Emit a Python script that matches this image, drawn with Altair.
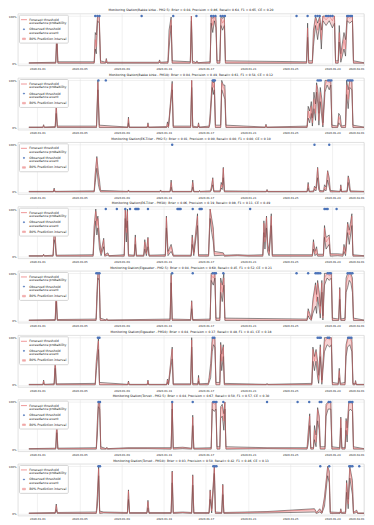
import altair as alt
import pandas as pd

# ---------------- data (days since 2020-01-01, forecast, lower80, upper80) ----------------
TITLES = [
    "Monitoring Station(Bakke kirke - PM2.5): Brier = 0.04, Precision = 0.86, Recall= 0.64, F1 = 0.65, CE = 0.20",
    "Monitoring Station(Bakke kirke - PM10): Brier = 0.04, Precision = 0.49, Recall= 0.61, F1 = 0.54, CE = 0.12",
    "Monitoring Station(E6-Tiller - PM2.5): Brier = 0.01, Precision = 0.00, Recall= 0.00, F1 = 0.00, CE = 0.10",
    "Monitoring Station(E6-Tiller - PM10): Brier = 0.06, Precision = 0.19, Recall= 0.08, F1 = 0.11, CE = 0.49",
    "Monitoring Station(Elgeseter - PM2.5): Brier = 0.04, Precision = 0.60, Recall= 0.45, F1 = 0.52, CE = 0.21",
    "Monitoring Station(Elgeseter - PM10): Brier = 0.04, Precision = 0.37, Recall= 0.48, F1 = 0.41, CE = 0.18",
    "Monitoring Station(Torvet - PM2.5): Brier = 0.04, Precision = 0.67, Recall= 0.50, F1 = 0.57, CE = 0.30",
    "Monitoring Station(Torvet - PM10): Brier = 0.03, Precision = 0.50, Recall= 0.42, F1 = 0.46, CE = 0.13",
]

P1 = [(-0.8, 0.005, 0, 0.01), (1.75, 0.005, 0, 0.02), (1.85, 0.65, 0.45, 0.75), (1.95, 0.01, 0, 0.03),
      (5.4, 0.01, 0, 0.03), (5.5, 0.5, 0.3, 0.65), (5.6, 0.35, 0.2, 0.6), (5.72, 1.0, 0.9, 1.0),
      (5.88, 0.97, 0.85, 1.0), (6.0, 0.01, 0, 0.05), (6.48, 0.01, 0, 0.02), (6.55, 0.08, 0.03, 0.1),
      (6.62, 0.01, 0, 0.02), (11.53, 0.01, 0, 0.02), (11.6, 0.05, 0.02, 0.07), (11.67, 0.01, 0, 0.02),
      (12.4, 0.01, 0, 0.03), (12.5, 0.5, 0.3, 0.7), (12.7, 0.92, 0.8, 0.98), (12.8, 0.01, 0, 0.05),
      (14.52, 0.01, 0, 0.03), (14.62, 1.0, 0.9, 1.0), (14.72, 0.01, 0, 0.05), (15.08, 0.005, 0, 0.01),
      (15.15, 0.03, 0.01, 0.05), (15.22, 0.005, 0, 0.01), (16.4, 0.01, 0, 0.03), (16.5, 0.98, 0.85, 1.0),
      (16.65, 0.8, 0.65, 0.95), (16.8, 1.0, 0.9, 1.0), (16.95, 0.9, 0.75, 1.0), (17.05, 0.01, 0, 0.05),
      (17.32, 0.01, 0, 0.05), (17.42, 0.95, 0.8, 1.0), (17.58, 0.85, 0.7, 0.95), (17.75, 0.92, 0.8, 1.0),
      (17.85, 0.01, 0, 0.05), (25.55, 0.01, 0, 0.03), (25.65, 0.75, 0.55, 0.85), (25.75, 0.01, 0, 0.05),
      (26.1, 0.01, 0, 0.05), (26.2, 0.55, 0.35, 0.7), (26.4, 0.95, 0.8, 1.0), (26.6, 0.7, 0.5, 0.85),
      (26.8, 0.95, 0.85, 1.0), (26.95, 0.5, 0.3, 0.7), (27.1, 1.0, 0.9, 1.0), (27.4, 0.92, 0.8, 1.0),
      (27.7, 1.0, 0.9, 1.0), (28.0, 0.9, 0.75, 1.0), (28.2, 1.0, 0.85, 1.0), (28.3, 0.01, 0, 0.05),
      (28.55, 0.01, 0, 0.05), (28.65, 0.65, 0.45, 0.8), (28.8, 0.1, 0.02, 0.2), (29.1, 0.5, 0.3, 0.65),
      (29.25, 0.3, 0.15, 0.5), (29.4, 1.0, 0.9, 1.0), (29.65, 0.95, 0.85, 1.0), (29.9, 1.0, 0.9, 1.0),
      (30.0, 0.01, 0, 0.05), (31, 0.005, 0, 0.01)]
P1_OBS = [5.5, 5.7, 5.9, 9.9, 12.9, 15.1, 16.5, 16.7, 16.9, 17.4, 17.6, 17.8, 24.6, 25.65,
          26.4, 26.6, 26.8, 27.4, 27.6, 27.8, 28.0, 29.4, 29.55, 29.7, 29.85]

P2 = [(-0.8, 0.005, 0, 0.01), (0.53, 0.005, 0, 0.01), (0.6, 0.04, 0.01, 0.06), (0.67, 0.005, 0, 0.01),
      (1.7, 0.01, 0, 0.02), (1.8, 0.46, 0.3, 0.5), (1.9, 0.01, 0, 0.03), (5.62, 0.01, 0, 0.03),
      (5.75, 0.96, 0.8, 1.0), (5.88, 0.01, 0, 0.05), (8.58, 0.005, 0, 0.01), (8.65, 0.19, 0.1, 0.22),
      (8.72, 0.005, 0, 0.01), (10.43, 0.005, 0, 0.01), (10.5, 0.08, 0.03, 0.1), (10.57, 0.005, 0, 0.01),
      (12.28, 0.01, 0, 0.02), (12.35, 0.08, 0.02, 0.12), (12.45, 0.01, 0, 0.03), (12.8, 0.93, 0.8, 0.98),
      (12.9, 0.01, 0, 0.03), (14.55, 0.01, 0, 0.03), (14.65, 1.0, 0.85, 1.0), (14.75, 0.01, 0, 0.03),
      (15.23, 0.005, 0, 0.01), (15.3, 0.08, 0.03, 0.1), (15.37, 0.005, 0, 0.01), (16.3, 0.01, 0, 0.03),
      (16.4, 0.2, 0.1, 0.3), (16.6, 0.97, 0.85, 1.0), (16.7, 0.85, 0.7, 0.95), (16.8, 0.95, 0.8, 1.0),
      (16.9, 0.01, 0, 0.05), (17.4, 0.01, 0, 0.05), (17.5, 0.95, 0.8, 1.0), (17.65, 0.85, 0.7, 0.9),
      (17.8, 0.8, 0.6, 0.9), (17.9, 0.01, 0, 0.05), (21.63, 0.005, 0, 0.01), (21.7, 0.05, 0.02, 0.07),
      (21.77, 0.005, 0, 0.01), (25.6, 0.01, 0, 0.03), (25.7, 0.35, 0.2, 0.45), (25.85, 0.2, 0.1, 0.35),
      (26.0, 0.45, 0.3, 0.55), (26.1, 0.1, 0.03, 0.2), (26.25, 0.6, 0.4, 0.75), (26.4, 0.3, 0.15, 0.5),
      (26.5, 0.9, 0.75, 0.95), (26.62, 0.7, 0.5, 0.8), (26.72, 0.15, 0.05, 0.3), (26.85, 0.75, 0.55, 0.85),
      (27.0, 0.4, 0.2, 0.6), (27.1, 0.05, 0.01, 0.1), (27.3, 0.9, 0.75, 1.0), (27.5, 1.0, 0.9, 1.0),
      (27.7, 0.95, 0.8, 1.0), (27.85, 1.0, 0.9, 1.0), (27.95, 0.01, 0, 0.05), (28.5, 0.01, 0, 0.03),
      (28.6, 0.23, 0.1, 0.3), (28.75, 0.15, 0.05, 0.25), (28.85, 0.01, 0, 0.03), (29.25, 0.01, 0, 0.05),
      (29.35, 0.9, 0.7, 1.0), (29.5, 0.6, 0.4, 0.8), (29.65, 1.0, 0.85, 1.0), (29.85, 0.95, 0.8, 1.0),
      (29.95, 0.01, 0, 0.05), (31, 0.005, 0, 0.01)]
P2_OBS = [5.8, 6.5, 16.65, 16.75, 16.85, 26.6, 26.75, 26.9, 27.6, 27.75, 27.9, 29.45, 29.6, 29.75, 29.9]

P3 = [(-0.8, 0.005, 0, 0.01), (1.53, 0.005, 0, 0.01), (1.6, 0.06, 0.03, 0.08), (1.67, 0.005, 0, 0.01),
      (5.4, 0.01, 0, 0.02), (5.5, 0.35, 0.2, 0.4), (5.65, 0.72, 0.5, 0.75), (5.8, 0.3, 0.15, 0.4),
      (5.9, 0.15, 0.05, 0.25), (6.0, 0.01, 0, 0.03), (8.58, 0.005, 0, 0.01), (8.65, 0.03, 0.01, 0.04),
      (8.72, 0.005, 0, 0.01), (11.63, 0.005, 0, 0.01), (11.7, 0.03, 0.01, 0.04), (11.77, 0.005, 0, 0.01),
      (12.6, 0.005, 0, 0.01), (12.7, 0.2, 0.1, 0.25), (12.8, 0.005, 0, 0.01), (14.65, 0.005, 0, 0.01),
      (14.75, 0.2, 0.1, 0.25), (14.85, 0.005, 0, 0.01), (15.33, 0.005, 0, 0.01), (15.4, 0.02, 0.01, 0.03),
      (15.47, 0.005, 0, 0.01), (16.42, 0.01, 0, 0.02), (16.5, 0.05, 0.02, 0.08), (16.65, 0.28, 0.15, 0.3),
      (16.75, 0.01, 0, 0.02), (17.35, 0.01, 0, 0.02), (17.45, 0.15, 0.08, 0.2), (17.55, 0.1, 0.05, 0.15),
      (17.65, 0.5, 0.3, 0.52), (17.75, 0.01, 0, 0.02), (21.73, 0.005, 0, 0.01), (21.8, 0.04, 0.02, 0.05),
      (21.87, 0.005, 0, 0.01), (25.6, 0.005, 0, 0.01), (25.7, 0.16, 0.08, 0.2), (25.8, 0.005, 0, 0.01),
      (26.22, 0.01, 0, 0.02), (26.3, 0.1, 0.05, 0.12), (26.45, 0.05, 0.02, 0.08), (26.6, 0.5, 0.3, 0.52),
      (26.7, 0.15, 0.05, 0.25), (26.8, 0.01, 0, 0.03), (27.17, 0.01, 0, 0.02), (27.25, 0.1, 0.05, 0.15),
      (27.4, 0.05, 0.02, 0.1), (27.55, 0.43, 0.25, 0.45), (27.7, 0.2, 0.1, 0.3), (27.8, 0.01, 0, 0.03),
      (28.73, 0.005, 0, 0.01), (28.8, 0.13, 0.06, 0.15), (28.87, 0.005, 0, 0.01), (29.4, 0.01, 0, 0.02),
      (29.5, 0.31, 0.2, 0.34), (29.6, 0.15, 0.08, 0.25), (29.7, 0.01, 0, 0.02), (31, 0.005, 0, 0.01)]
P3_OBS = [12.8, 26.3, 27.7]

P4 = [(-0.8, 0.005, 0, 0.01), (0.53, 0.005, 0, 0.01), (0.6, 0.03, 0.01, 0.04), (0.67, 0.005, 0, 0.01),
      (1.5, 0.01, 0, 0.02), (1.6, 0.52, 0.35, 0.55), (1.7, 0.4, 0.25, 0.45), (1.8, 0.01, 0, 0.02),
      (5.3, 0.01, 0, 0.03), (5.4, 0.6, 0.4, 0.65), (5.55, 0.95, 0.75, 1.0), (5.65, 0.65, 0.45, 0.75),
      (5.75, 0.8, 0.6, 0.85), (5.9, 0.3, 0.15, 0.4), (6.05, 0.05, 0.01, 0.08), (6.3, 0.35, 0.2, 0.38),
      (6.4, 0.01, 0, 0.03), (6.7, 0.05, 0.02, 0.07), (6.8, 0.005, 0, 0.01), (8.25, 0.01, 0, 0.03),
      (8.35, 0.98, 0.8, 1.0), (8.45, 0.5, 0.3, 0.6), (8.55, 0.95, 0.75, 1.0), (8.65, 0.01, 0, 0.03),
      (9.2, 0.01, 0, 0.02), (9.3, 0.4, 0.25, 0.45), (9.4, 0.01, 0, 0.02), (10.1, 0.01, 0, 0.02),
      (10.2, 0.3, 0.15, 0.35), (10.35, 0.05, 0.01, 0.08), (10.5, 0.38, 0.2, 0.4), (10.6, 0.01, 0, 0.02),
      (12.15, 0.01, 0, 0.03), (12.25, 0.82, 0.6, 0.85), (12.4, 0.05, 0.01, 0.1), (12.7, 0.2, 0.1, 0.25),
      (12.8, 0.1, 0.05, 0.15), (12.9, 0.01, 0, 0.02), (14.6, 0.01, 0, 0.02), (14.7, 0.4, 0.25, 0.45),
      (14.85, 0.05, 0.01, 0.08), (15.2, 0.85, 0.65, 0.9), (15.3, 0.01, 0, 0.03), (16.25, 0.01, 0, 0.03),
      (16.4, 1.0, 0.8, 1.0), (16.55, 0.7, 0.5, 0.8), (16.7, 0.5, 0.3, 0.6), (16.8, 0.05, 0.01, 0.1),
      (17.65, 0.05, 0.02, 0.07), (17.75, 0.01, 0, 0.02), (19.0, 0.02, 0.01, 0.03), (20.0, 0.01, 0, 0.02),
      (21.4, 0.01, 0, 0.03), (21.5, 0.7, 0.5, 0.75), (21.6, 0.3, 0.15, 0.4), (21.75, 0.82, 0.6, 0.85),
      (21.85, 0.2, 0.1, 0.3), (22.0, 0.05, 0.01, 0.1), (22.2, 0.85, 0.65, 0.9), (22.3, 0.01, 0, 0.03),
      (26.1, 0.01, 0, 0.03), (26.2, 0.3, 0.15, 0.35), (26.35, 0.05, 0.01, 0.1), (26.5, 0.15, 0.05, 0.2),
      (26.6, 0.02, 0, 0.04), (27.15, 0.02, 0, 0.04), (27.25, 0.6, 0.4, 0.65), (27.4, 0.3, 0.15, 0.4),
      (27.7, 0.4, 0.25, 0.45), (27.8, 0.03, 0, 0.05), (28.5, 0.03, 0.01, 0.05), (29.0, 0.02, 0, 0.04),
      (29.1, 0.2, 0.1, 0.25), (29.25, 0.05, 0.01, 0.1), (29.45, 0.68, 0.5, 0.72), (29.6, 0.45, 0.25, 0.55),
      (29.85, 0.85, 0.65, 0.9), (29.95, 0.01, 0, 0.03), (31, 0.005, 0, 0.01)]
P4_OBS = [6.5, 7.55, 8.35, 8.8, 9.3, 9.4, 9.5, 9.6, 10.5, 13.3, 13.4, 13.5, 13.6, 14.75, 15.4, 15.5,
          15.6, 20.2, 27.25, 27.4, 27.55, 28.4]

P5 = [(-0.8, 0.005, 0, 0.01), (1.7, 0.01, 0, 0.02), (1.8, 0.58, 0.4, 0.62), (1.9, 0.01, 0, 0.02),
      (5.58, 0.01, 0, 0.03), (5.65, 0.45, 0.3, 0.55), (5.75, 1.0, 0.9, 1.0), (5.88, 0.98, 0.85, 1.0),
      (5.97, 0.01, 0, 0.05), (6.53, 0.005, 0, 0.01), (6.6, 0.03, 0.01, 0.04), (6.67, 0.005, 0, 0.01),
      (12.6, 0.01, 0, 0.03), (12.7, 0.95, 0.8, 1.0), (12.8, 0.01, 0, 0.03), (14.55, 0.01, 0, 0.02),
      (14.65, 0.4, 0.25, 0.42), (14.75, 0.01, 0, 0.02), (16.4, 0.01, 0, 0.03), (16.5, 0.97, 0.85, 1.0),
      (16.7, 0.9, 0.75, 1.0), (16.85, 1.0, 0.9, 1.0), (16.95, 0.01, 0, 0.05), (17.32, 0.01, 0, 0.05),
      (17.4, 0.8, 0.6, 0.9), (17.55, 0.6, 0.4, 0.75), (17.7, 0.9, 0.75, 1.0), (17.8, 0.01, 0, 0.05),
      (25.6, 0.01, 0, 0.03), (25.7, 0.2, 0.1, 0.25), (25.85, 0.1, 0.03, 0.15), (26.0, 0.01, 0, 0.03),
      (26.15, 0.35, 0.15, 0.45), (26.4, 0.75, 0.3, 0.8), (26.5, 0.4, 0.15, 0.55), (26.6, 0.8, 0.5, 0.85),
      (26.75, 0.5, 0.25, 0.6), (26.85, 0.15, 0.05, 0.3), (27.0, 0.8, 0.6, 0.85), (27.1, 0.05, 0.01, 0.1),
      (27.25, 0.9, 0.75, 1.0), (27.5, 1.0, 0.9, 1.0), (27.7, 0.95, 0.85, 1.0), (27.9, 1.0, 0.9, 1.0),
      (28.0, 0.01, 0, 0.05), (28.6, 0.01, 0, 0.03), (28.7, 0.67, 0.45, 0.7), (28.8, 0.01, 0, 0.03),
      (29.2, 0.01, 0, 0.05), (29.3, 0.8, 0.6, 0.9), (29.45, 0.9, 0.7, 1.0), (29.6, 1.0, 0.85, 1.0),
      (29.75, 0.95, 0.8, 1.0), (29.9, 0.8, 0.6, 0.9), (30.0, 0.01, 0, 0.05), (31, 0.005, 0, 0.01)]
P5_OBS = [5.6, 5.75, 5.9, 12.8, 14.75, 16.65, 16.8, 16.95, 17.65, 24.6, 25.7, 26.4, 26.55, 26.7, 26.85,
          27.55, 27.7, 27.85, 29.45, 29.6, 29.75, 29.9]

P6 = [(-0.8, 0.005, 0, 0.01), (0.53, 0.005, 0, 0.01), (0.6, 0.08, 0.03, 0.1), (0.67, 0.005, 0, 0.01),
      (1.6, 0.01, 0, 0.02), (1.7, 0.52, 0.35, 0.55), (1.8, 0.01, 0, 0.02), (5.5, 0.01, 0, 0.03),
      (5.6, 0.45, 0.3, 0.5), (5.8, 0.93, 0.75, 0.98), (5.9, 0.01, 0, 0.05), (8.58, 0.005, 0, 0.01),
      (8.65, 0.06, 0.02, 0.08), (8.72, 0.005, 0, 0.01), (10.43, 0.005, 0, 0.01), (10.5, 0.08, 0.03, 0.1),
      (10.57, 0.005, 0, 0.01), (12.28, 0.005, 0, 0.01), (12.35, 0.1, 0.05, 0.12), (12.45, 0.01, 0, 0.02),
      (12.8, 0.76, 0.55, 0.8), (12.9, 0.01, 0, 0.02), (14.55, 0.01, 0, 0.02), (14.65, 0.95, 0.8, 1.0),
      (14.75, 0.01, 0, 0.03), (15.23, 0.01, 0, 0.02), (15.3, 0.15, 0.08, 0.2), (15.37, 0.01, 0, 0.02),
      (16.22, 0.01, 0, 0.03), (16.3, 0.1, 0.05, 0.15), (16.45, 0.3, 0.15, 0.45), (16.6, 0.9, 0.7, 1.0),
      (16.72, 1.0, 0.85, 1.0), (16.85, 0.95, 0.8, 1.0), (16.95, 0.01, 0, 0.05), (17.32, 0.01, 0, 0.05),
      (17.4, 0.85, 0.65, 0.9), (17.5, 0.5, 0.3, 0.65), (17.65, 0.8, 0.6, 0.85), (17.75, 0.01, 0, 0.03),
      (21.73, 0.005, 0, 0.01), (21.8, 0.02, 0.01, 0.03), (21.87, 0.005, 0, 0.01), (26.05, 0.01, 0, 0.03),
      (26.15, 0.75, 0.5, 0.8), (26.3, 0.5, 0.3, 0.6), (26.45, 0.7, 0.5, 0.75), (26.6, 0.35, 0.15, 0.5),
      (26.7, 0.1, 0.03, 0.2), (26.85, 0.8, 0.6, 0.85), (27.0, 0.05, 0.01, 0.1), (27.25, 0.9, 0.7, 1.0),
      (27.5, 1.0, 0.85, 1.0), (27.75, 0.95, 0.8, 1.0), (27.9, 1.0, 0.85, 1.0), (28.0, 0.01, 0, 0.05),
      (28.55, 0.01, 0, 0.03), (28.65, 0.3, 0.15, 0.35), (28.75, 0.01, 0, 0.03), (29.2, 0.01, 0, 0.05),
      (29.3, 0.8, 0.6, 0.85), (29.45, 0.95, 0.8, 1.0), (29.65, 1.0, 0.85, 1.0), (29.85, 0.9, 0.7, 1.0),
      (29.95, 0.01, 0, 0.03), (30.13, 0.01, 0, 0.02), (30.2, 0.07, 0.03, 0.09), (30.27, 0.005, 0, 0.01),
      (31, 0.005, 0, 0.01)]
P6_OBS = [5.75, 5.9, 16.65, 16.8, 26.6, 26.75, 26.9, 27.55, 27.7, 29.5, 29.65, 29.8]

P7 = [(-0.8, 0.005, 0, 0.01), (1.75, 0.01, 0, 0.02), (1.85, 0.55, 0.35, 0.6), (1.95, 0.01, 0, 0.02),
      (5.6, 0.01, 0, 0.03), (5.7, 0.5, 0.3, 0.6), (5.8, 1.0, 0.9, 1.0), (5.92, 0.97, 0.85, 1.0),
      (6.02, 0.01, 0, 0.05), (6.53, 0.005, 0, 0.01), (6.6, 0.03, 0.01, 0.04), (6.67, 0.005, 0, 0.01),
      (8.6, 0.02, 0.01, 0.03), (10.5, 0.02, 0.01, 0.03), (12.7, 0.01, 0, 0.03), (12.8, 0.98, 0.85, 1.0),
      (12.9, 0.01, 0, 0.03), (13.8, 0.03, 0.01, 0.04), (14.65, 0.01, 0, 0.02), (14.75, 0.68, 0.5, 0.72),
      (14.85, 0.01, 0, 0.02), (16.5, 0.01, 0, 0.03), (16.6, 1.0, 0.85, 1.0), (16.8, 0.95, 0.8, 1.0),
      (16.95, 0.98, 0.85, 1.0), (17.05, 0.01, 0, 0.05), (17.32, 0.01, 0, 0.05), (17.4, 0.85, 0.65, 0.9),
      (17.55, 0.9, 0.7, 0.95), (17.7, 0.6, 0.4, 0.75), (17.8, 1.0, 0.85, 1.0), (17.9, 0.01, 0, 0.05),
      (21.8, 0.02, 0.01, 0.03), (25.6, 0.01, 0, 0.03), (25.7, 0.25, 0.1, 0.35), (25.85, 0.7, 0.5, 0.75),
      (25.95, 0.01, 0, 0.03), (26.2, 0.01, 0, 0.03), (26.3, 0.4, 0.2, 0.5), (26.45, 0.15, 0.05, 0.3),
      (26.6, 0.84, 0.6, 0.88), (26.75, 0.65, 0.4, 0.7), (26.85, 0.01, 0, 0.05), (27.3, 0.01, 0, 0.05),
      (27.4, 0.9, 0.7, 0.95), (27.6, 0.98, 0.85, 1.0), (27.85, 1.0, 0.85, 1.0), (27.95, 0.01, 0, 0.05),
      (28.7, 0.01, 0, 0.03), (28.8, 0.65, 0.45, 0.68), (28.9, 0.01, 0, 0.03), (29.2, 0.01, 0, 0.03),
      (29.3, 0.6, 0.4, 0.65), (29.4, 0.3, 0.15, 0.45), (29.55, 0.95, 0.8, 1.0), (29.7, 1.0, 0.85, 1.0),
      (29.9, 0.95, 0.8, 1.0), (30.0, 0.01, 0, 0.05), (31, 0.005, 0, 0.01)]
P7_OBS = [5.8, 5.95, 12.8, 14.75, 16.7, 16.85, 17.0, 17.65, 21.8, 24.7, 25.8, 26.8, 26.95, 27.65,
          27.8, 29.6, 29.75, 29.9]

P8 = [(-0.8, 0.005, 0, 0.01), (1.7, 0.01, 0, 0.02), (1.8, 0.17, 0.08, 0.2), (1.9, 0.01, 0, 0.02),
      (5.6, 0.01, 0, 0.03), (5.7, 0.3, 0.15, 0.4), (5.82, 0.95, 0.8, 1.0), (5.92, 0.01, 0, 0.05),
      (6.3, 0.02, 0.01, 0.03), (8.55, 0.01, 0, 0.02), (8.65, 0.48, 0.3, 0.5), (8.75, 0.01, 0, 0.02),
      (10.4, 0.01, 0, 0.02), (10.5, 0.25, 0.12, 0.28), (10.6, 0.01, 0, 0.02), (12.7, 0.01, 0, 0.02),
      (12.8, 0.88, 0.65, 0.9), (12.9, 0.01, 0, 0.02), (13.8, 0.02, 0.01, 0.03), (14.65, 0.01, 0, 0.02),
      (14.75, 0.8, 0.6, 0.82), (14.85, 0.01, 0, 0.02), (16.3, 0.01, 0, 0.02), (16.4, 0.48, 0.3, 0.5),
      (16.55, 0.05, 0.01, 0.1), (16.8, 0.98, 0.85, 1.0), (16.9, 0.01, 0, 0.03), (17.5, 0.01, 0, 0.02),
      (17.6, 0.6, 0.4, 0.62), (17.7, 0.01, 0, 0.02), (21.8, 0.03, 0.01, 0.04), (26.3, 0.08, 0.03, 0.1),
      (26.5, 0.01, 0, 0.02), (26.8, 0.08, 0.03, 0.1), (27.0, 0.01, 0, 0.02), (27.25, 0.3, 0.15, 0.35),
      (27.55, 0.97, 0.8, 1.0), (27.7, 0.85, 0.65, 0.9), (27.8, 0.01, 0, 0.03), (28.73, 0.01, 0, 0.02),
      (28.8, 0.08, 0.03, 0.1), (28.87, 0.01, 0, 0.02), (29.25, 0.01, 0, 0.03), (29.35, 0.65, 0.45, 0.7),
      (29.5, 0.2, 0.1, 0.3), (29.65, 0.95, 0.75, 1.0), (29.9, 0.6, 0.4, 0.7), (30.0, 0.01, 0, 0.02),
      (30.3, 0.05, 0.02, 0.07), (30.4, 0.005, 0, 0.01), (31, 0.005, 0, 0.01)]
P8_OBS = [5.8, 5.95, 16.7, 16.85, 17.0, 26.85, 27.7, 29.6, 29.75, 29.9, 30.55]

PANELS = [(P1, P1_OBS), (P2, P2_OBS), (P3, P3_OBS), (P4, P4_OBS),
          (P5, P5_OBS), (P6, P6_OBS), (P7, P7_OBS), (P8, P8_OBS)]

TICK_DATES = [(2020, 1, 1), (2020, 1, 5), (2020, 1, 9), (2020, 1, 13), (2020, 1, 17),
              (2020, 1, 21), (2020, 1, 25), (2020, 1, 29), (2020, 2, 1)]
Y_TICKS = [0, 0.2, 0.4, 0.6, 0.8, 1.0]

SF = "Forecast threshold|exceedance probability"
SO = "Observed threshold|exceedance event"
SB = "80% Prediction interval"
RED = "#e8696b"
BLUE = "#4a72b8"
PINK = "#f0a8a8"

# ---------------- chart ----------------
W, H = 347, 52
FONT = "DejaVu Sans"
BASE = pd.Timestamp("2020-01-01")

CIRCLE = "M0,-0.2A0.2,0.2 0 1,1 0,0.2A0.2,0.2 0 1,1 0,-0.2Z"
RECT = "M-0.5,-0.25L0.5,-0.25L0.5,0.25L-0.5,0.25Z"


def times(days):
    return BASE + pd.to_timedelta(list(days), unit="D")


color_scale = alt.Scale(domain=[SF, SO, SB], range=[RED, BLUE, PINK])

legend = alt.Legend(
    title=None, orient="top-left", offset=1, fillColor="white", strokeColor="#d5d5d5",
    padding=1.5, cornerRadius=1, labelFontSize=3.2, labelFont=FONT, labelColor="#222",
    labelExpr="split(datum.label, '|')", rowPadding=0.6, labelOffset=1.8,
    symbolSize=36, symbolStrokeWidth=0.7, symbolOpacity=1,
    symbolType=alt.ExprRef(expr=f"datum.value === '{SO}' ? '{CIRCLE}' : datum.value === '{SB}' ? '{RECT}' : 'stroke'"),
    symbolFillColor=alt.ExprRef(expr=f"datum.value === '{SO}' ? '{BLUE}' : datum.value === '{SB}' ? '{PINK}' : 'transparent'"),
    symbolStrokeColor=alt.ExprRef(expr=f"datum.value === '{SF}' ? '{RED}' : 'transparent'"),
)

x_enc = alt.X(
    "t:T", title=None,
    scale=alt.Scale(domain=[alt.DateTime(year=2019, month=12, date=30, hours=4),
                            alt.DateTime(year=2020, month=2, date=1)]),
    axis=alt.Axis(values=[alt.DateTime(year=y, month=m, date=d) for y, m, d in TICK_DATES],
                  format="%Y-%m-%d", labelFlush=True),
)
y_scale = alt.Scale(domain=[-0.05, 1.05], nice=False, zero=False)
y_axis = alt.Axis(values=Y_TICKS, format=".0%")


def panel(title, rows, obs):
    df = pd.DataFrame(rows, columns=["d", "p", "lo", "hi"])
    df["t"] = times(df["d"])
    df["f"] = SF
    df["b"] = SB
    od = pd.DataFrame({"d": obs})
    od["t"] = times(od["d"])
    od["y"] = 1.0
    od["o"] = SO

    base = alt.Chart(df)
    band = base.mark_area(opacity=0.5).encode(
        x=x_enc,
        y=alt.Y("lo:Q", scale=y_scale, axis=y_axis, title=None),
        y2="hi:Q",
        color=alt.Color("b:N", scale=color_scale, legend=legend),
    )
    lo_line = base.mark_line(color="#1e1e1e", strokeWidth=0.5).encode(
        x=x_enc, y=alt.Y("lo:Q", scale=y_scale))
    hi_line = base.mark_line(color="#1e1e1e", strokeWidth=0.5).encode(
        x=x_enc, y=alt.Y("hi:Q", scale=y_scale))
    f_line = base.mark_line(strokeWidth=0.5).encode(
        x=x_enc, y=alt.Y("p:Q", scale=y_scale),
        color=alt.Color("f:N", scale=color_scale, legend=legend),
    )
    pts = alt.Chart(od).mark_circle(size=6, opacity=1).encode(
        x=x_enc, y=alt.Y("y:Q", scale=y_scale),
        color=alt.Color("o:N", scale=color_scale, legend=legend),
    )
    return alt.layer(band, lo_line, hi_line, f_line, pts).properties(
        width=W, height=H,
        title=alt.TitleParams(title, fontSize=3.1, font=FONT, fontWeight="normal",
                              color="#111", offset=1.2, anchor="middle"),
    )


chart = alt.vconcat(
    *[panel(t, rows, obs) for t, (rows, obs) in zip(TITLES, PANELS)], spacing=2.5
).resolve_scale(color="independent").resolve_legend(color="independent").configure(
    background="white", padding=0, style={"guide-label": {"lineHeight": 3.4}}
).configure_view(
    stroke="#cfcfcf", strokeWidth=0.6
).configure_axis(
    grid=True, gridColor="#e3e3e3", gridWidth=0.5, domain=False, ticks=False,
    labelFontSize=2.7, labelFont=FONT, labelColor="#222", labelPadding=2,
)

chart.save("out.html", embed_options={"renderer": "svg", "actions": False})
